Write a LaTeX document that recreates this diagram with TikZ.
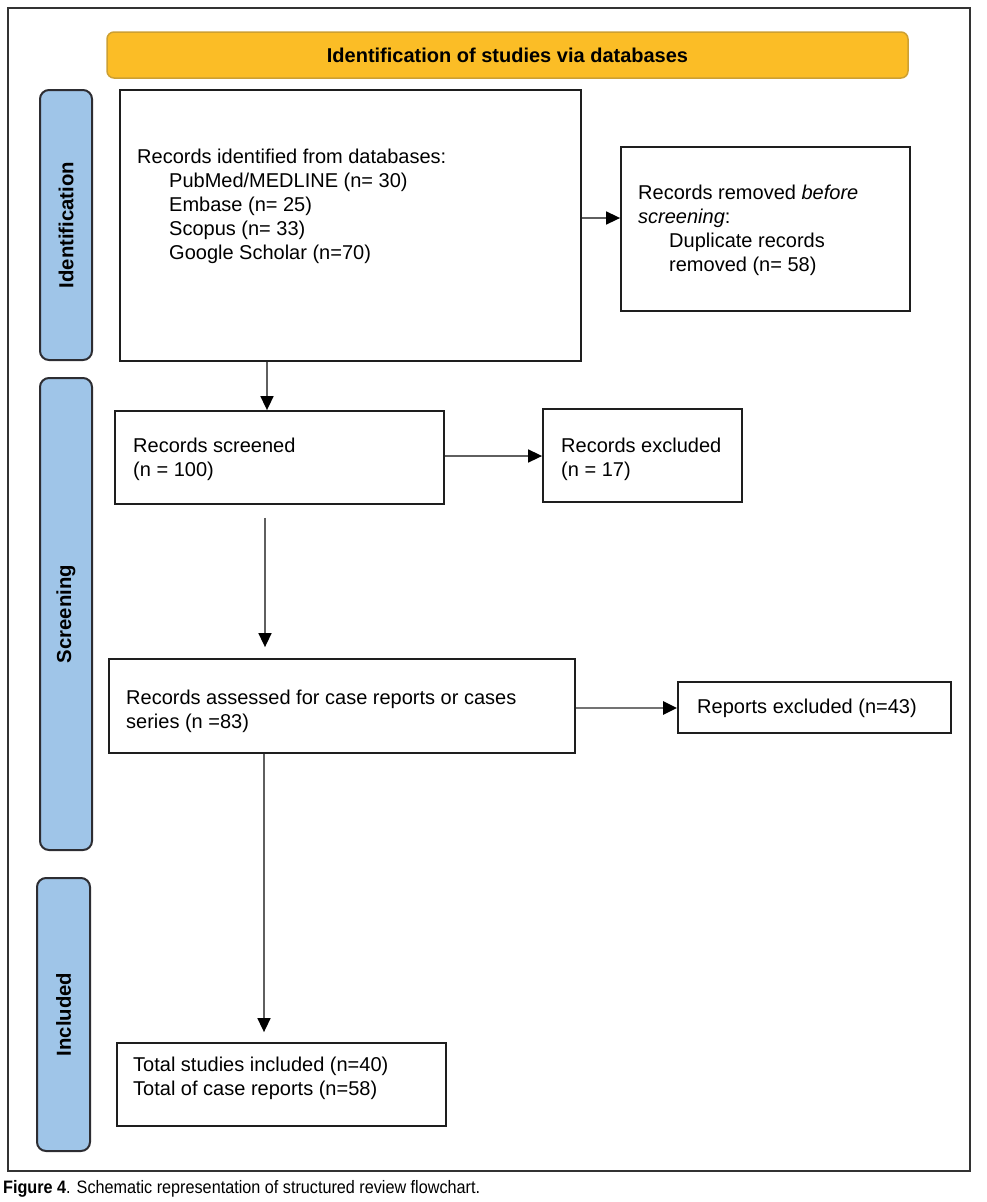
\documentclass[tikz,border=0pt]{standalone}
\usepackage{fontspec}
\setmainfont{Liberation Sans}
\newfontfamily\capfont[FakeStretch=0.9]{Liberation Sans}
\usetikzlibrary{arrows.meta,calc}
\definecolor{bannerfill}{RGB}{251,189,38}
\definecolor{bannerdraw}{RGB}{205,160,50}
\definecolor{sidefill}{RGB}{159,197,232}
\definecolor{sidedraw}{RGB}{45,45,50}
\definecolor{boxdraw}{RGB}{30,30,30}
\definecolor{arrowgray}{RGB}{95,95,95}
\begin{document}
\begin{tikzpicture}[x=1pt,y=-1pt,
  box/.style={draw=boxdraw,line width=1.8pt,fill=white},
  side/.style={draw=sidedraw,line width=2pt,fill=sidefill,rounded corners=9pt},
  sidetext/.style={rotate=90,font=\fontsize{20.3}{24}\selectfont\bfseries,text=black},
  txt/.style={anchor=north west,inner sep=0pt,align=left,font=\fontsize{20}{24}\selectfont},
  flow/.style={draw=arrowgray,line width=1.6pt,-{Triangle[length=14pt,width=13pt,fill=black,color=black]}}
]
\useasboundingbox (0,0) rectangle (986,1202);
% outer frame
\draw[line width=2pt,draw=black!80] (8,8) rectangle (970,1171);
% banner
\node[draw=bannerdraw,line width=1.5pt,fill=bannerfill,rounded corners=7pt,
      minimum width=801pt,minimum height=46pt,inner sep=0pt,
      font=\fontsize{20}{24}\selectfont\bfseries] (banner) at (507.5,55) {Identification of studies via databases};
% side boxes
\node[side,minimum width=52pt,minimum height=270pt] (sideI) at (66,225) {};
\node[sidetext] at (sideI.center) {Identification};
\node[side,minimum width=52pt,minimum height=472pt] (sideS) at (66,614) {};
\node[sidetext] at (sideS.center) {Screening};
\node[side,minimum width=53pt,minimum height=273pt] (sideN) at (63.5,1014.5) {};
\node[sidetext] at (sideN.center) {Included};
% boxes
\node[box,minimum width=461pt,minimum height=271pt] (ident) at (350.5,225.5) {};
\node[txt] (identT) at (137,149) {Records identified from databases:\\
\hspace{32pt}PubMed/MEDLINE (n= 30)\\
\hspace{32pt}Embase (n= 25)\\
\hspace{32pt}Scopus (n= 33)\\
\hspace{32pt}Google Scholar (n=70)};
\node[box,minimum width=289pt,minimum height=164pt] (removed) at (765.5,229) {};
\node[txt] (removedT) at (638,185) {Records removed \textit{before}\\
\textit{screening}:\\
\hspace{31pt}Duplicate records\\
\hspace{31pt}removed (n= 58)};
\node[box,minimum width=329pt,minimum height=93pt] (screened) at (279.5,457.5) {};
\node[txt] (screenedT) at (133,438) {Records screened\\(n = 100)};
\node[box,minimum width=199pt,minimum height=93pt] (excluded) at (642.5,455.5) {};
\node[txt] (excludedT) at (561,438) {Records excluded\\(n = 17)};
\node[box,minimum width=466pt,minimum height=94pt] (assessed) at (342,706) {};
\node[txt] (assessedT) at (126,690) {Records assessed for case reports or cases\\series (n =83)};
\node[box,minimum width=273pt,minimum height=51pt] (reports) at (814.5,707.5) {};
\node[txt,anchor=west] (reportsT) at (697,708) {Reports excluded (n=43)};
\node[box,minimum width=329pt,minimum height=83pt] (included) at (281.5,1084.5) {};
\node[txt] (includedT) at (133,1057) {Total studies included (n=40)\\Total of case reports (n=58)};
% spine coordinates
\coordinate (c1) at (267,0);
\coordinate (c2) at (265,0);
\coordinate (c3) at (264,0);
\coordinate (r1) at (0,218);
\coordinate (r2) at (0,456);
\coordinate (r3) at (0,708);
% arrows
\draw[flow] (ident.east |- r1) -- (removed.west |- r1);
\draw[flow] (ident.south -| c1) -- (screened.north -| c1);
\draw[flow] (screened.east |- r2) -- (excluded.west |- r2);
\draw[flow,shorten <=13pt,shorten >=11pt] (screened.south -| c2) -- (assessed.north -| c2);
\draw[flow,line width=2.6pt,draw=black!55] (assessed.east |- r3) -- (reports.west |- r3);
\draw[flow,shorten >=10pt] (assessed.south -| c3) -- (included.north -| c3);
% caption
\node[anchor=base west,inner sep=0pt,font=\capfont\fontsize{18}{22}\selectfont] (caption) at (3,1193) {\textbf{Figure 4}. Schematic representation of structured review flowchart.};
\end{tikzpicture}
\end{document}
